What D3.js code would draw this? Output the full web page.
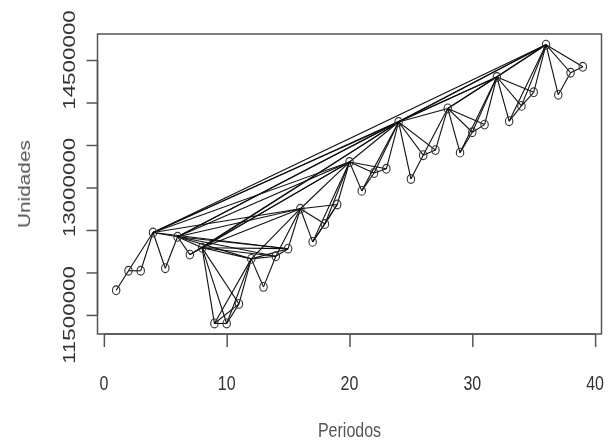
<!DOCTYPE html>
<html>
<head>
<meta charset="utf-8">
<script src="https://cdn.jsdelivr.net/npm/d3@7"></script>
<style>
  body { margin: 0; background: #fff; }
  svg text { font-family: "Liberation Sans", Arial, sans-serif; }
</style>
</head>
<body>
<svg id="chart" width="610" height="448">
  <defs>
    <filter id="soft" x="-5%" y="-5%" width="110%" height="110%">
      <feGaussianBlur stdDeviation="0.35"/>
    </filter>
  </defs>
</svg>
<script>
// periods and units
var periodos = [1,2,3,4,5,6,7,8,9,10,11,12,13,14,15,16,17,18,19,20,
	21,22,23,24,25,26,27,28,29,30,31,32,33,34,35,36,37,38,39];
var unidades = [11790000, 12020000, 12020000, 12470000, 12050000, 12420000, 12210000, 12290000,
	11400000, 11400000, 11630000, 12160000, 11830000, 12190000, 12280000, 12750000,
	12360000, 12570000, 12800000, 13300000, 12960000, 13170000, 13220000, 13770000,
	13100000, 13380000, 13440000, 13930000, 13410000, 13650000, 13740000, 14300000,
	13780000, 13960000, 14120000, 14680000, 14090000, 14350000, 14420000];

var xTicks = [0, 10, 20, 30, 40];
var yTicks = [11500000, 12000000, 12500000, 13000000, 13500000, 14000000, 14500000];
var yLabelTicks = [11500000, 13000000, 14500000];

var box = {left: 97.5, right: 601.5, top: 34, bottom: 334};
var stretch = 1.3;  // text in the picture is taller than wide

var svg = d3.select("#chart");
var g = svg.append("g").attr("filter", "url(#soft)");

var x = d3.scaleLinear().domain([-0.52, 40.52]).range([box.left, box.right]);
var y = d3.scaleLinear().domain([11276000, 14806000]).range([box.bottom, box.top]);

var pts = periodos.map(function(p, i) { return {t: p, v: unidades[i]}; });

// natural visibility graph: a and b are linked when every point between them lies below the line a-b
var edges = [];
for (var a = 0; a < pts.length; a++) {
	for (var b = a + 1; b < pts.length; b++) {
		var ok = true;
		for (var k = a + 1; k < b; k++) {
			var lim = pts[a].v + (pts[b].v - pts[a].v) * (pts[k].t - pts[a].t) / (pts[b].t - pts[a].t);
			if (pts[k].v >= lim) { ok = false; break; }
		}
		if (ok) edges.push([pts[a], pts[b]]);
	}
}

g.append("g")
	.selectAll("line")
	.data(edges)
	.enter().append("line")
	.attr("x1", function(d) { return x(d[0].t); })
	.attr("y1", function(d) { return y(d[0].v); })
	.attr("x2", function(d) { return x(d[1].t); })
	.attr("y2", function(d) { return y(d[1].v); })
	.style("stroke", "#111")
	.style("stroke-width", 1.1);

g.append("g")
	.selectAll("ellipse")
	.data(pts)
	.enter().append("ellipse")
	.attr("cx", function(d) { return x(d.t); })
	.attr("cy", function(d) { return y(d.v); })
	.attr("rx", 3.7)
	.attr("ry", 4.4)
	.style("fill", "none")
	.style("stroke", "#333")
	.style("stroke-width", 1.1);

// box
g.append("rect")
	.attr("x", box.left).attr("y", box.top)
	.attr("width", box.right - box.left).attr("height", box.bottom - box.top)
	.style("fill", "none")
	.style("stroke", "#555")
	.style("stroke-width", 1.5);

// x axis
var xAxis = g.append("g")
	.attr("transform", "translate(0," + box.bottom + ")")
	.call(d3.axisBottom(x).tickValues(xTicks).tickSize(13).tickSizeOuter(0).tickFormat(""));
xAxis.select(".domain").attr("d", "M" + x(xTicks[0]) + ",0H" + x(xTicks[xTicks.length - 1]));
xAxis.selectAll("path, line").style("stroke", "#555").style("stroke-width", 1.5);

g.append("g")
	.selectAll("text")
	.data(xTicks)
	.enter().append("text")
	.attr("transform", function(d) { return "translate(" + x(d) + ",390) scale(1," + stretch + ")"; })
	.attr("text-anchor", "middle")
	.style("font-size", "16px")
	.style("fill", "#333")
	.text(function(d) { return d; });

// y axis
var yAxis = g.append("g")
	.attr("transform", "translate(" + box.left + ",0)")
	.call(d3.axisLeft(y).tickValues(yTicks).tickSize(11).tickSizeOuter(0).tickFormat(""));
yAxis.select(".domain").attr("d", "M0," + y(yTicks[0]) + "V" + y(yTicks[yTicks.length - 1]));
yAxis.selectAll("path, line").style("stroke", "#555").style("stroke-width", 1.5);

g.append("g")
	.selectAll("text")
	.data(yLabelTicks)
	.enter().append("text")
	.attr("transform", function(d) { return "translate(75," + y(d) + ") rotate(-90) scale(1.4,1)"; })
	.attr("text-anchor", "middle")
	.style("font-size", "16px")
	.style("fill", "#333")
	.text(function(d) { return d; });

// axis titles
g.append("text")
	.attr("transform", "translate(" + (box.left + box.right) / 2 + ",437) scale(1," + stretch + ")")
	.attr("text-anchor", "middle")
	.style("font-size", "16px")
	.style("fill", "#555")
	.text("Periodos");

g.append("text")
	.attr("transform", "translate(30," + (box.top + box.bottom) / 2 + ") rotate(-90) scale(" + stretch + ",1)")
	.attr("text-anchor", "middle")
	.style("font-size", "16px")
	.style("fill", "#555")
	.text("Unidades");
</script>
</body>
</html>
